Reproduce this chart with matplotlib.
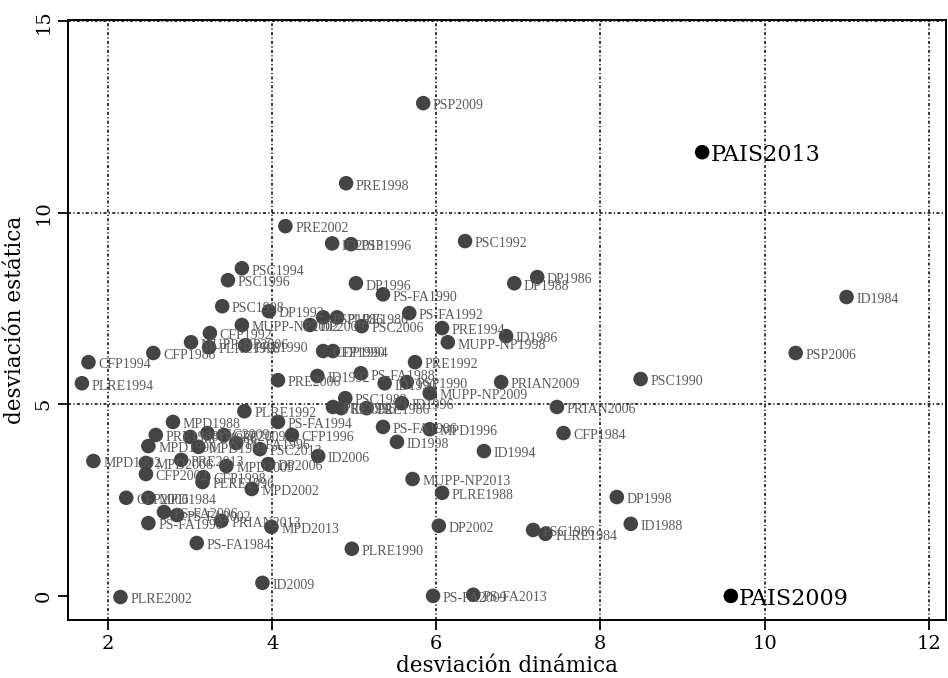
import matplotlib
matplotlib.use("Agg")
import matplotlib.pyplot as plt

# etiquetas de los puntos y sus coordenadas (desviación dinámica, desviación estática)
etiquetas = [
    "PSP2009", "PRE1998", "PRE2002", "ID2013", "PSP1996", "PSC1992",
    "PSC1994", "PSC1996", "DP1996", "DP1986", "DP1988", "PS-FA1990",
    "ID1984", "PSC1998", "DP1992", "PS-FA1992", "PSP1986", "PLRE1986",
    "MUPP-NP2002", "DP2009", "PSC2006", "CFP1992", "PRE1994", "MUPP-NP1998",
    "ID1986", "MUPP-NP2006", "PLRE1998", "PRE1990", "CFP1988", "CFP1990",
    "DP1994", "CFP1994", "PRE1992", "PLRE1994", "PRE2006", "ID1992",
    "PS-FA1988", "ID1990", "PSP1990", "PRIAN2009", "PSC1990", "PSP2006",
    "MUPP-NP2009", "PSC1988", "PRE1996", "ID2002", "PRE1986", "ID1996",
    "PRIAN2006", "PLRE1992", "MPD1988", "PS-FA1994", "PS-FA1986", "MPD1996",
    "CFP1984", "CFP1996", "PRE1988", "MPD1986", "PSC2009", "CFP2009",
    "ID1998", "PS-FA1996", "MPD1990", "MPD1994", "PSC2013", "ID1994",
    "ID2006", "MPD1992", "PRE2013", "MPD2006", "MPD2009", "DP2006",
    "CFP2002", "CFP1998", "PLRE1996", "MUPP-NP2013", "MPD2002", "PLRE1988",
    "DP1998", "CFP2006", "MPD1984", "PS-FA2006", "PS-FA2002", "PS-FA1998",
    "PRIAN2013", "MPD2013", "ID1988", "DP2002", "PSC1986", "PLRE1984",
    "PS-FA1984", "PLRE1990", "ID2009", "PLRE2002", "PS-FA2009", "PS-FA2013",
]
din = [
    5.84, 4.90, 4.16, 4.73, 4.96, 6.35,
    3.63, 3.46, 5.02, 7.23, 6.95, 5.35,
    11.00, 3.39, 3.96, 5.67, 4.62, 4.79,
    3.63, 4.46, 5.09, 3.24, 6.07, 6.14,
    6.85, 3.01, 3.23, 3.67, 2.55, 4.62,
    4.74, 1.76, 5.74, 1.68, 4.07, 4.55,
    5.08, 5.37, 5.64, 6.79, 8.49, 10.38,
    5.92, 4.89, 4.74, 4.84, 5.15, 5.58,
    7.47, 3.66, 2.79, 4.07, 5.35, 5.92,
    7.55, 4.24, 2.58, 3.00, 3.21, 3.41,
    5.52, 3.56, 2.49, 3.10, 3.85, 6.58,
    4.56, 1.82, 2.89, 2.46, 3.44, 3.95,
    2.46, 3.16, 3.15, 5.71, 3.75, 6.07,
    8.20, 2.22, 2.49, 2.68, 2.84, 2.49,
    3.38, 3.99, 8.37, 6.03, 7.18, 7.33,
    3.08, 4.97, 3.88, 2.15, 5.96, 6.45,
]
est = [
    12.86, 10.77, 9.65, 9.20, 9.18, 9.26,
    8.55, 8.24, 8.16, 8.32, 8.16, 7.87,
    7.80, 7.56, 7.43, 7.38, 7.27, 7.27,
    7.07, 7.07, 7.04, 6.86, 6.99, 6.62,
    6.78, 6.62, 6.49, 6.54, 6.34, 6.39,
    6.39, 6.10, 6.10, 5.55, 5.63, 5.74,
    5.81, 5.55, 5.58, 5.58, 5.66, 6.34,
    5.29, 5.16, 4.93, 4.90, 4.90, 5.03,
    4.93, 4.82, 4.54, 4.54, 4.41, 4.35,
    4.25, 4.20, 4.20, 4.15, 4.25, 4.20,
    4.02, 3.99, 3.91, 3.89, 3.83, 3.78,
    3.65, 3.52, 3.55, 3.47, 3.39, 3.44,
    3.18, 3.10, 2.97, 3.05, 2.79, 2.69,
    2.58, 2.56, 2.56, 2.19, 2.11, 1.90,
    1.96, 1.80, 1.88, 1.83, 1.72, 1.62,
    1.38, 1.23, 0.34, -0.03, 0.00, 0.03,
]

# los dos puntos del país, resaltados en negro
pais = ["PAIS2013", "PAIS2009"]
pais_din = [9.24, 9.59]
pais_est = [11.58, 0.00]

xticks = [2, 4, 6, 8, 10, 12]
yticks = [0, 5, 10, 15]
ygrid = [5, 10, 15]

plt.rcParams['font.family'] = ['DejaVu Serif']

fig = plt.figure(figsize=(9.48, 6.78), dpi=100)
ax = fig.add_axes([0.0717, 0.0855, 0.926, 0.885])

# rejilla punteada
for gx in xticks:
    ax.axvline(gx, color='black', lw=1.1, ls=(0, (2, 1.5, 0.8, 1.5)), zorder=0)
for gy in ygrid:
    ax.axhline(gy, color='black', lw=1.1, ls=(0, (2, 1.5, 0.8, 1.5)), zorder=0)

ax.scatter(din, est, s=110, color='#444444', edgecolors='none', zorder=3)
for et, x, y in zip(etiquetas, din, est):
    ax.annotate(et, (x, y), xytext=(7, -2), textcoords='offset points',
                fontsize=10, family='Liberation Serif', color='#5a5a5a',
                va='center', ha='left', zorder=4)

ax.scatter(pais_din, pais_est, s=110, color='black', edgecolors='none', zorder=5)
for et, x, y in zip(pais, pais_din, pais_est):
    ax.annotate(et, (x, y), xytext=(6, -2), textcoords='offset points',
                fontsize=16, color='black', va='center', ha='left', zorder=6)

ax.set_xlim(1.51, 12.21)
ax.set_ylim(-0.63, 15.03)
ax.set_xticks(xticks)
ax.set_yticks(yticks)
ax.set_yticklabels([str(t) for t in yticks], rotation=90, va='center')
ax.tick_params(direction='out', length=7, width=1.3, labelsize=14, pad=4)
for sp in ax.spines.values():
    sp.set_linewidth(1.4)

ax.set_xlabel("desviación dinámica", fontsize=15.5, labelpad=1)
ax.set_ylabel("desviación estática", fontsize=15.5, labelpad=6)

fig.savefig("out.png", dpi=100)
